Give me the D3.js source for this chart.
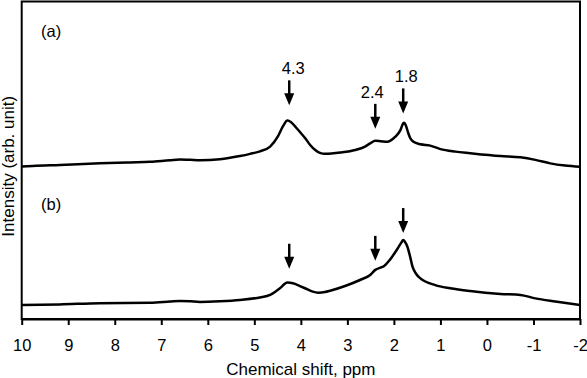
<!DOCTYPE html>
<html>
<head>
<meta charset="utf-8">
<script src="https://cdn.jsdelivr.net/npm/d3@7"></script>
<style>
  html, body { margin: 0; padding: 0; background: #fff; }
  svg { display: block; }
  text { font-family: "Liberation Sans", Arial, sans-serif; fill: #000; }
</style>
</head>
<body>
<svg id="chart" width="587" height="378"></svg>
<script>
// ---- data ----
const xTicks = [10, 9, 8, 7, 6, 5, 4, 3, 2, 1, 0, -1, -2];
const xTitle = "Chemical shift, ppm";
const yTitle = "Intensity (arb. unit)";
const panelLabels = ["(a)", "(b)"];

// spectrum (a)
const ppmA = [10.0, 9.76, 9.18, 8.32, 7.67, 7.24, 6.81, 6.60, 6.38, 6.17, 5.74, 5.31, 5.09, 4.88, 4.66, 4.49, 4.38, 4.29, 4.21, 4.12, 4.02, 3.91, 3.80, 3.69, 3.59, 3.48, 3.15, 2.83, 2.62, 2.51, 2.40, 2.29, 2.14, 2.04, 1.97, 1.86, 1.80, 1.78, 1.74, 1.69, 1.65, 1.58, 1.43, 1.22, 1.00, 0.68, 0.36, -0.29, -0.72, -1.04, -1.36, -1.68, -2.0];
const intA = [3.1, 3.3, 3.6, 4.1, 4.4, 4.6, 5.1, 5.3, 5.2, 5.1, 5.4, 6.4, 7.1, 7.9, 9.4, 12.7, 15.9, 17.6, 17.1, 15.7, 14.0, 12.1, 9.9, 8.3, 7.4, 7.1, 7.5, 8.3, 9.4, 10.4, 11.2, 11.1, 10.9, 11.6, 12.5, 14.6, 16.7, 16.9, 15.9, 13.6, 12.1, 10.9, 10.1, 9.7, 8.6, 7.8, 7.3, 6.4, 6.0, 5.2, 4.1, 3.4, 3.0];

// spectrum (b)
const ppmB = [10.0, 9.18, 8.32, 7.24, 6.81, 6.60, 6.38, 6.17, 5.74, 5.31, 4.88, 4.66, 4.45, 4.29, 4.17, 4.02, 3.91, 3.76, 3.62, 3.48, 3.37, 3.05, 2.73, 2.51, 2.40, 2.29, 2.23, 2.08, 1.93, 1.84, 1.80, 1.76, 1.71, 1.65, 1.60, 1.52, 1.43, 1.11, 0.79, 0.36, -0.29, -0.72, -1.04, -1.47, -2.0];
const intB = [4.4, 4.6, 5.0, 5.1, 5.5, 5.7, 5.6, 5.4, 5.6, 6.0, 6.8, 7.6, 9.7, 11.5, 11.3, 10.4, 9.7, 8.7, 8.3, 8.5, 8.9, 10.4, 12.3, 13.9, 15.5, 16.2, 16.5, 18.8, 22.0, 24.1, 24.9, 24.3, 22.8, 19.6, 16.5, 14.2, 12.8, 10.7, 9.7, 8.8, 7.9, 7.6, 6.5, 5.5, 4.4];

// marked peaks
const peakPpm = [4.25, 2.4, 1.8];
const peakLabels = ["4.3", "2.4", "1.8"];

// ---- layout ----
const svg = d3.select("#chart");
const mLeft = 21.7, mRight = 580, mTop = 1.5, mBottom = 319;
const x = d3.scaleLinear().domain([10, -2]).range([mLeft, mRight]);
const y = d3.scaleLinear().domain([0, 100]).range([mBottom, 2]);
const offsets = [45, 0];

const series = [
  ppmA.map((p, i) => ({ppm: p, v: intA[i] + offsets[0]})),
  ppmB.map((p, i) => ({ppm: p, v: intB[i] + offsets[1]}))
];

const line = d3.line()
  .x(d => x(d.ppm))
  .y(d => y(d.v))
  .curve(d3.curveMonotoneX);

series.forEach(s => {
  svg.append("path")
    .datum(s)
    .attr("d", line)
    .attr("fill", "none")
    .attr("stroke", "#000")
    .attr("stroke-width", 2.5)
    .attr("stroke-linejoin", "round");
});

// frame
svg.append("rect")
  .attr("x", mLeft).attr("y", mTop)
  .attr("width", mRight - mLeft).attr("height", mBottom - mTop)
  .attr("fill", "none").attr("stroke", "#000").attr("stroke-width", 2);

// x axis
const xAxis = d3.axisBottom(x)
  .tickValues(xTicks)
  .tickFormat(d => String(d))
  .tickSize(6)
  .tickSizeOuter(0)
  .tickPadding(14);
const gx = svg.append("g").attr("transform", `translate(0,${mBottom})`).call(xAxis);
gx.select(".domain").attr("stroke-width", 2);
gx.selectAll(".tick line").attr("stroke-width", 2);
gx.selectAll(".tick text")
  .attr("font-size", 16.5)
  .attr("font-family", "Liberation Sans, Arial, sans-serif");

// axis titles
svg.append("text")
  .attr("x", (mLeft + mRight) / 2).attr("y", 375)
  .attr("text-anchor", "middle").attr("font-size", 17)
  .text(xTitle);
svg.append("text")
  .attr("transform", `translate(13.5,${(mTop + mBottom) / 2 + 6}) rotate(-90)`)
  .attr("text-anchor", "middle").attr("font-size", 17)
  .text(yTitle);

// panel labels
const panelY = [37, 210];
panelLabels.forEach((t, i) => {
  svg.append("text").attr("x", 41).attr("y", panelY[i])
    .attr("font-size", 16.5).text(t);
});

// arrows
function interp(s, p) {
  const arr = s.slice().reverse(); // increasing ppm
  const i = d3.bisector(d => d.ppm).left(arr, p);
  if (i <= 0) return arr[0].v;
  const a = arr[i - 1], b = arr[i];
  const t = (p - a.ppm) / (b.ppm - a.ppm);
  return a.v + t * (b.v - a.v);
}
const gapsPx = [[16, 12, 10], [14, 9, 7]];
const labelDx = [4, -3, 3];
const arrowLen = 25, headLen = 12, headHalf = 5;
series.forEach((s, si) => {
  peakPpm.forEach((p, k) => {
    const cx = x(p);
    const tip = y(interp(s, p)) - gapsPx[si][k];
    const tail = tip - arrowLen;
    svg.append("line")
      .attr("x1", cx).attr("x2", cx)
      .attr("y1", tail).attr("y2", tip - headLen + 1)
      .attr("stroke", "#000").attr("stroke-width", 2.5);
    svg.append("path")
      .attr("d", `M${cx - headHalf},${tip - headLen} L${cx + headHalf},${tip - headLen} L${cx},${tip} Z`)
      .attr("fill", "#000");
    if (si === 0) {
      svg.append("text")
        .attr("x", cx + labelDx[k]).attr("y", tail - 6)
        .attr("text-anchor", "middle").attr("font-size", 16.5)
        .text(peakLabels[k]);
    }
  });
});
</script>
</body>
</html>
